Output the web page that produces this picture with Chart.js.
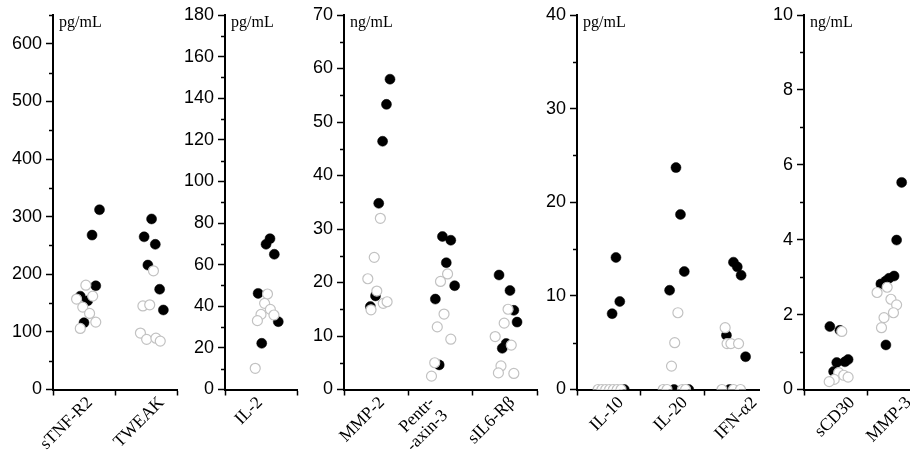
<!DOCTYPE html>
<html><head><meta charset="utf-8">
<script src="https://cdn.jsdelivr.net/npm/chart.js@4.4.1/dist/chart.umd.min.js"></script>
<style>
html,body{margin:0;padding:0;background:#fff;overflow:hidden;width:910px;height:452px;position:relative}
canvas{position:absolute;top:0}
</style></head><body>
<script>
// ---------- Panel 1 (pg/mL) ----------
const p1Names = ['sTNF-R2', 'TWEAK'];
const sTNFR2Filled = [312, 268, 180, 162, 154, 116];
const sTNFR2FilledJit = [0.75, 0.63, 0.69, 0.44, 0.56, 0.50];
const sTNFR2Open = [181, 162, 157, 143, 132, 117, 106];
const sTNFR2OpenJit = [0.53, 0.64, 0.38, 0.48, 0.59, 0.69, 0.44];
const tweakFilled = [296, 265, 252, 216, 174, 138];
const tweakFilledJit = [0.59, 0.47, 0.65, 0.53, 0.72, 0.78];
const tweakOpen = [206, 145, 147, 98, 87, 89, 84];
const tweakOpenJit = [0.62, 0.45, 0.56, 0.41, 0.51, 0.66, 0.73];

// ---------- Panel 2 (pg/mL) ----------
const p2Names = ['IL-2'];
const il2Filled = [72.5, 69.8, 65, 46.2, 32.6, 22.2];
const il2FilledJit = [0.625, 0.57, 0.685, 0.46, 0.74, 0.51];
const il2Open = [45.9, 41.4, 38.5, 36.1, 35.8, 33.1, 10.2];
const il2OpenJit = [0.59, 0.55, 0.63, 0.50, 0.68, 0.45, 0.42];

// ---------- Panel 3 (ng/mL) ----------
const p3Names = ['MMP-2', ['Pentr-', '-axin-3'], 'sIL6-Rβ'];
const mmp2Filled = [58.0, 53.3, 46.4, 34.8, 17.5, 15.5];
const mmp2FilledJit = [0.715, 0.66, 0.60, 0.54, 0.49, 0.41];
const mmp2Open = [32.0, 24.7, 20.7, 18.4, 16.1, 16.4, 14.9];
const mmp2OpenJit = [0.565, 0.47, 0.37, 0.51, 0.61, 0.67, 0.42];
const ptx3Filled = [28.6, 27.9, 23.7, 19.4, 16.9, 4.6];
const ptx3FilledJit = [0.53, 0.66, 0.59, 0.72, 0.42, 0.48];
const ptx3Open = [21.6, 20.2, 14.1, 11.7, 9.4, 5.0, 2.5];
const ptx3OpenJit = [0.61, 0.50, 0.555, 0.45, 0.66, 0.41, 0.36];
const sil6Filled = [21.4, 18.5, 14.8, 12.6, 8.6, 7.7];
const sil6FilledJit = [0.41, 0.58, 0.64, 0.69, 0.52, 0.46];
const sil6Open = [9.9, 12.4, 15.0, 8.3, 4.4, 3.1, 3.0];
const sil6OpenJit = [0.35, 0.49, 0.55, 0.60, 0.44, 0.40, 0.64];

// ---------- Panel 4 (pg/mL) ----------
const p4Names = ['IL-10', 'IL-20', 'IFN-α2'];
const il10Filled = [14.1, 9.4, 8.1, 0];
const il10FilledJit = [0.61, 0.67, 0.55, 0.74];
const il10Open = [0, 0, 0, 0, 0, 0, 0];
const il10OpenJit = [0.33, 0.39, 0.45, 0.51, 0.57, 0.63, 0.69];
const il20Filled = [23.7, 18.7, 12.6, 10.6, 0, 0];
const il20FilledJit = [0.55, 0.62, 0.68, 0.45, 0.52, 0.75];
const il20Open = [8.2, 5.0, 2.5, 0, 0, 0, 0];
const il20OpenJit = [0.58, 0.53, 0.48, 0.35, 0.41, 0.65, 0.70];
const ifnFilled = [13.6, 13.1, 12.2, 5.8, 3.5, 0];
const ifnFilledJit = [0.45, 0.51, 0.57, 0.34, 0.64, 0.39];
const ifnOpen = [6.6, 4.9, 4.9, 4.9, 0, 0, 0];
const ifnOpenJit = [0.32, 0.35, 0.41, 0.53, 0.27, 0.45, 0.56];

// ---------- Panel 5 (ng/mL) ----------
const p5Names = ['sCD30', 'MMP-3'];
const scd30Filled = [1.68, 1.58, 0.72, 0.74, 0.80, 0.48];
const scd30FilledJit = [0.41, 0.57, 0.52, 0.65, 0.70, 0.47];
const scd30Open = [1.55, 0.45, 0.38, 0.33, 0.27, 0.21];
const scd30OpenJit = [0.60, 0.55, 0.63, 0.70, 0.48, 0.40];
const mmp3Filled = [5.53, 3.99, 3.03, 2.97, 2.90, 2.82, 1.19];
const mmp3FilledJit = [0.55, 0.47, 0.43, 0.35, 0.30, 0.22, 0.30];
const mmp3Open = [2.59, 2.73, 2.41, 2.26, 2.05, 1.92, 1.65];
const mmp3OpenJit = [0.16, 0.32, 0.38, 0.47, 0.42, 0.27, 0.23];

function isMajor(v, every) { return Math.abs(v / every - Math.round(v / every)) < 1e-6; }

const unitPlugin = {
  id: 'unit',
  afterDraw(chart, args, opts) {
    const { ctx, chartArea } = chart;
    ctx.save();
    ctx.font = '16px "Liberation Serif", "Times New Roman", serif';
    ctx.fillStyle = '#000';
    ctx.textBaseline = 'alphabetic';
    ctx.textAlign = 'left';
    ctx.fillText(opts.text, chartArea.left + 6, chartArea.top + 12);
    ctx.restore();
  }
};

// short minor ticks on the y axis, placed through the y scale
const minorTickPlugin = {
  id: 'minorTicks',
  afterDraw(chart, args, opts) {
    const y = chart.scales.y;
    const ctx = chart.ctx;
    ctx.save();
    ctx.strokeStyle = '#000';
    ctx.lineWidth = 1.5;
    y.ticks.forEach(t => {
      if (isMajor(t.value, opts.every)) return;
      const py = Math.round(y.getPixelForValue(t.value)) + 0.5;
      ctx.beginPath();
      ctx.moveTo(y.right - 4, py);
      ctx.lineTo(y.right, py);
      ctx.stroke();
    });
    ctx.restore();
  }
};

function makePanel(cfg) {
  const canvas = document.createElement('canvas');
  const left = cfg.axisX - 52;
  const w = Math.ceil(cfg.right - left + 4);
  canvas.width = w; canvas.height = 452;
  canvas.style.left = left + 'px';
  canvas.style.width = w + 'px';
  canvas.style.height = '452px';
  document.body.appendChild(canvas);
  const filled = [], open = [];
  cfg.cats.forEach((c, i) => {
    c.fv.forEach((v, k) => filled.push({ x: i + c.fj[k], y: v }));
    c.ov.forEach((v, k) => open.push({ x: i + c.oj[k], y: v }));
  });
  const xTicks = [];
  for (let i = 0; i <= cfg.cats.length; i++) { if (i <= cfg.xMax) xTicks.push({ value: i }); }
  cfg.cats.forEach((c, i) => xTicks.push({ value: i + 0.5 + cfg.labelShift[i], lbl: c.name }));
  xTicks.sort((a, b) => a.value - b.value);
  new Chart(canvas, {
    type: 'scatter',
    data: { datasets: [
      { data: open, pointRadius: 5, pointHoverRadius: 5, pointBackgroundColor: '#fff', pointBorderColor: '#c2c2c2', pointBorderWidth: 1.2, clip: 0 },
      { data: filled, pointRadius: 5, pointHoverRadius: 5, pointBackgroundColor: '#000', pointBorderColor: '#000', pointBorderWidth: 0.5, clip: 0 }
    ] },
    options: {
      responsive: false, animation: false, events: [],
      layout: { padding: { top: 15, right: 4, left: 0, bottom: 0 }, autoPadding: false },
      plugins: { legend: { display: false }, tooltip: { enabled: false }, unit: { text: cfg.unit }, minorTicks: { every: cfg.every } },
      scales: {
        x: {
          type: 'linear', min: 0, max: cfg.xMax, z: 1,
          afterBuildTicks: s => { s.ticks = xTicks.map(t => ({ ...t })); },
          afterFit: s => { s.height = 62.5; s.paddingLeft = 0; s.paddingRight = 0; },
          border: { display: true, color: '#000', width: 2 },
          grid: { display: true, drawOnChartArea: false, drawTicks: true, tickLength: 6, tickWidth: 1.5,
                  color: '#000', tickColor: ctx => (ctx.tick && ctx.tick.lbl) ? 'rgba(0,0,0,0)' : '#000' },
          ticks: { autoSkip: false, minRotation: 45, maxRotation: 45, padding: -2, color: '#000',
                   font: { family: '"Liberation Serif", "Times New Roman", serif', size: 17.5, lineHeight: 1.05 },
                   callback: (v, i, t) => t[i].lbl || '' }
        },
        y: {
          type: 'linear', min: 0, max: cfg.max, z: 1,
          afterFit: s => { s.width = 52; s.paddingTop = 0; s.paddingBottom = 0; },
          border: { display: true, color: '#000', width: 2 },
          grid: { drawOnChartArea: false, tickLength: 7, tickWidth: 1.5, color: '#000',
                  tickColor: ctx => (ctx.tick && isMajor(ctx.tick.value, cfg.every)) ? '#000' : 'rgba(0,0,0,0)' },
          ticks: { stepSize: cfg.step, autoSkip: false, padding: 4, color: '#000',
                   font: { family: '"Liberation Sans", Arial, sans-serif', size: 18 },
                   callback: v => (isMajor(v, cfg.every) ? v : '') }
        }
      }
    },
    plugins: [unitPlugin, minorTickPlugin]
  });
}

makePanel({ axisX: 53, right: 177, xMax: 2, max: 650, step: 50, every: 100, unit: 'pg/mL',
  labelShift: [0.095, 0.25], cats: [
  { name: p1Names[0], fv: sTNFR2Filled, fj: sTNFR2FilledJit, ov: sTNFR2Open, oj: sTNFR2OpenJit },
  { name: p1Names[1], fv: tweakFilled, fj: tweakFilledJit, ov: tweakOpen, oj: tweakOpenJit }
] });
makePanel({ axisX: 225, right: 297, xMax: 1, max: 180, step: 10, every: 20, unit: 'pg/mL',
  labelShift: [-0.015], cats: [
  { name: p2Names[0], fv: il2Filled, fj: il2FilledJit, ov: il2Open, oj: il2OpenJit }
] });
makePanel({ axisX: 344, right: 537, xMax: 3, max: 70, step: 5, every: 10, unit: 'ng/mL',
  labelShift: [0.09, -0.13, 0.115], cats: [
  { name: p3Names[0], fv: mmp2Filled, fj: mmp2FilledJit, ov: mmp2Open, oj: mmp2OpenJit },
  { name: p3Names[1], fv: ptx3Filled, fj: ptx3FilledJit, ov: ptx3Open, oj: ptx3OpenJit },
  { name: p3Names[2], fv: sil6Filled, fj: sil6FilledJit, ov: sil6Open, oj: sil6OpenJit }
] });
makePanel({ axisX: 577, right: 759, xMax: 2.85, max: 40, step: 5, every: 10, unit: 'pg/mL',
  labelShift: [0.19, 0.19, 0.28], cats: [
  { name: p4Names[0], fv: il10Filled, fj: il10FilledJit, ov: il10Open, oj: il10OpenJit },
  { name: p4Names[1], fv: il20Filled, fj: il20FilledJit, ov: il20Open, oj: il20OpenJit },
  { name: p4Names[2], fv: ifnFilled, fj: ifnFilledJit, ov: ifnOpen, oj: ifnOpenJit }
] });
makePanel({ axisX: 804, right: 930, xMax: 2, max: 10, step: 1, every: 2, unit: 'ng/mL',
  labelShift: [0.265, 0.16], cats: [
  { name: p5Names[0], fv: scd30Filled, fj: scd30FilledJit, ov: scd30Open, oj: scd30OpenJit },
  { name: p5Names[1], fv: mmp3Filled, fj: mmp3FilledJit, ov: mmp3Open, oj: mmp3OpenJit }
] });
</script>
</body></html>
